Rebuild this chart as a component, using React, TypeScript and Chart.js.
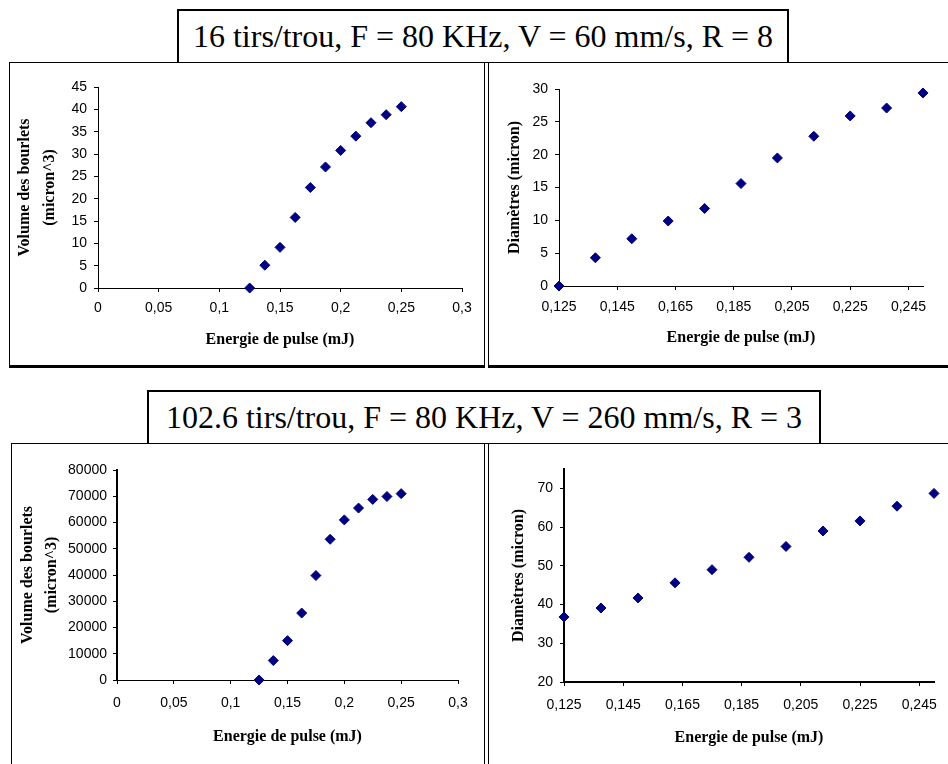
import React, { useEffect, useRef } from 'react';
import { Chart, registerables } from 'chart.js';

Chart.register(...registerables);

// ---------- data ----------
const energy = [0.125, 0.1375, 0.15, 0.1625, 0.175, 0.1875, 0.2, 0.2125, 0.225, 0.2375, 0.25];
const volume16 = [0, 5.1, 9.1, 15.8, 22.5, 27.1, 30.8, 34.0, 37.0, 38.8, 40.6];
const diam16 = [0, 4.3, 7.2, 9.9, 11.8, 15.6, 19.5, 22.8, 25.9, 27.1, 29.4];
const volume102 = [0, 7400, 15000, 25500, 39800, 53600, 61000, 65500, 68800, 69900, 71000];
const diam102 = [36.8, 39.1, 41.7, 45.6, 49.0, 52.2, 55.0, 59.0, 61.6, 65.4, 68.7];

const xTicksFull = [0, 0.05, 0.1, 0.15, 0.2, 0.25, 0.3];
const xTicksZoom = [0.125, 0.145, 0.165, 0.185, 0.205, 0.225, 0.245];
const yTicksVol16 = [0, 5, 10, 15, 20, 25, 30, 35, 40, 45];
const yTicksDiam16 = [0, 5, 10, 15, 20, 25, 30];
const yTicksVol102 = [0, 10000, 20000, 30000, 40000, 50000, 60000, 70000, 80000];
const yTicksDiam102 = [20, 30, 40, 50, 60, 70];

const title16 = '16 tirs/trou, F = 80 KHz, V = 60 mm/s, R = 8';
const title102 = '102.6 tirs/trou, F = 80 KHz, V = 260 mm/s, R = 3';
const xTitle = 'Energie de pulse (mJ)';
const yTitleVolume = ['Volume des bourlets', '(micron^3)'];
const yTitleDiam = 'Diamètres (micron)';

// ---------- styles ----------
const NAVY = '#000080';
const SANS = '"Liberation Sans", Arial, sans-serif';
const SERIF = '"Liberation Serif", "Times New Roman", "DejaVu Serif", serif';

type Spec = {
  canvas: { left: number; top: number; width: number; height: number };
  area: { left: number; right: number; top: number; bottom: number };
  xMin: number; xMax: number; xTicks: number[];
  yMin: number; yMax: number; yTicks: number[];
  xs: number[]; ys: number[];
  yTitle: string | string[];
  yTitleX: number; yTitleLH: number;
  xTitleY: number;
  xLabelGap: number; yLabelGap: number;
  xBorder: number; yBorder: number;
  tickFont: number;
};

const fmt = (v: any) => String(v).replace('.', ',');

function ScatterPanel({ spec }: { spec: Spec }) {
  const ref = useRef<HTMLCanvasElement>(null);
  const c = spec.canvas;
  useEffect(() => {
    const a = spec.area;
    const yAxisWidth = a.left - c.left;
    const xAxisHeight = c.top + c.height - a.bottom;
    const titleSize = 16;
    const xTitleLH = titleSize * 1.2;
    const xTitlePadBottom = c.top + c.height - spec.xTitleY - xTitleLH / 2;
    const yTitlePadTop = spec.yTitleX - c.left - spec.yTitleLH / 2;
    const tickLen = 4;
    const tickLH = spec.tickFont * 1.2;
    const chart = new Chart(ref.current as HTMLCanvasElement, {
      type: 'scatter',
      data: {
        datasets: [
          {
            data: spec.xs.map((x, i) => ({ x, y: spec.ys[i] })),
            pointStyle: 'rectRot',
            pointRadius: 5,
            backgroundColor: NAVY,
            borderColor: NAVY,
            borderWidth: 1,
            clip: false,
          } as any,
        ],
      },
      options: {
        responsive: false,
        animation: false,
        devicePixelRatio: 1,
        layout: {
          padding: { left: 0, top: a.top - c.top, right: c.left + c.width - a.right, bottom: 0 },
        },
        plugins: { legend: { display: false }, tooltip: { enabled: false }, title: { display: false } },
        scales: {
          x: {
            type: 'linear',
            position: 'bottom',
            min: spec.xMin,
            max: spec.xMax,
            afterBuildTicks: (ax: any) => { ax.ticks = spec.xTicks.map((v) => ({ value: v })); },
            afterFit: (ax: any) => { ax.height = xAxisHeight; },
            ticks: {
              callback: fmt,
              font: { family: SANS, size: spec.tickFont },
              color: '#000',
              padding: spec.xLabelGap - tickLen - tickLH / 2,
              maxRotation: 0,
              autoSkip: false,
            },
            grid: { display: true, drawOnChartArea: false, drawTicks: true, tickLength: tickLen, color: '#000', lineWidth: 1 },
            border: { display: true, color: '#000', width: spec.xBorder },
            title: {
              display: true,
              text: xTitle,
              color: '#000',
              font: { family: SERIF, size: titleSize, weight: 'bold', lineHeight: 1.2 },
              padding: { top: 0, bottom: xTitlePadBottom },
            },
          },
          y: {
            type: 'linear',
            position: 'left',
            min: spec.yMin,
            max: spec.yMax,
            afterBuildTicks: (ax: any) => { ax.ticks = spec.yTicks.map((v) => ({ value: v })); },
            afterFit: (ax: any) => { ax.width = yAxisWidth; },
            ticks: {
              callback: fmt,
              font: { family: SANS, size: spec.tickFont },
              color: '#000',
              padding: spec.yLabelGap - tickLen,
              autoSkip: false,
            },
            grid: { display: true, drawOnChartArea: false, drawTicks: true, tickLength: tickLen, color: '#000', lineWidth: 1 },
            border: { display: true, color: '#000', width: spec.yBorder },
            title: {
              display: true,
              text: spec.yTitle,
              color: '#000',
              font: { family: SERIF, size: titleSize, weight: 'bold', lineHeight: spec.yTitleLH / titleSize },
              padding: { top: yTitlePadTop, bottom: 0 },
            },
          },
        },
      } as any,
    });
    return () => chart.destroy();
  }, [spec]);
  return (
    <canvas
      ref={ref}
      width={c.width}
      height={c.height}
      style={{ position: 'absolute', left: c.left, top: c.top, width: c.width, height: c.height }}
    />
  );
}

const specTL: Spec = {
  canvas: { left: 10, top: 63, width: 474, height: 302 },
  area: { left: 98, right: 462, top: 87, bottom: 288 },
  xMin: 0, xMax: 0.3, xTicks: xTicksFull,
  yMin: 0, yMax: 45, yTicks: yTicksVol16,
  xs: energy, ys: volume16,
  yTitle: yTitleVolume, yTitleX: 25, yTitleLH: 25,
  xTitleY: 340, xLabelGap: 20, yLabelGap: 11,
  xBorder: 1, yBorder: 1, tickFont: 14,
};

const specTR: Spec = {
  canvas: { left: 489, top: 63, width: 459, height: 302 },
  area: { left: 559, right: 923, top: 89, bottom: 286 },
  xMin: 0.125, xMax: 0.25, xTicks: xTicksZoom,
  yMin: 0, yMax: 30, yTicks: yTicksDiam16,
  xs: energy, ys: diam16,
  yTitle: yTitleDiam, yTitleX: 515, yTitleLH: 19.2,
  xTitleY: 338, xLabelGap: 21, yLabelGap: 11,
  xBorder: 1, yBorder: 1, tickFont: 14,
};

const specBL: Spec = {
  canvas: { left: 12, top: 444, width: 472, height: 320 },
  area: { left: 117, right: 458, top: 470, bottom: 680 },
  xMin: 0, xMax: 0.3, xTicks: xTicksFull,
  yMin: 0, yMax: 80000, yTicks: yTicksVol102,
  xs: energy, ys: volume102,
  yTitle: yTitleVolume, yTitleX: 28, yTitleLH: 24,
  xTitleY: 737, xLabelGap: 23, yLabelGap: 10,
  xBorder: 1, yBorder: 2, tickFont: 14,
};

const specBR: Spec = {
  canvas: { left: 489, top: 444, width: 459, height: 320 },
  area: { left: 564, right: 934, top: 469, bottom: 682 },
  xMin: 0.125, xMax: 0.25, xTicks: xTicksZoom,
  yMin: 20, yMax: 75, yTicks: yTicksDiam102,
  xs: energy, ys: diam102,
  yTitle: yTitleDiam, yTitleX: 519, yTitleLH: 19.2,
  xTitleY: 738, xLabelGap: 23, yLabelGap: 11,
  xBorder: 2, yBorder: 2, tickFont: 14,
};

const abs = (left: number, top: number, width: number, height: number): React.CSSProperties => ({
  position: 'absolute', left, top, width, height, boxSizing: 'border-box',
});

function TitleBox({ left, top, width, height, text }: { left: number; top: number; width: number; height: number; text: string }) {
  return (
    <div
      style={{
        ...abs(left, top, width, height),
        border: '2px solid #000',
        borderBottomWidth: 1,
        background: '#fff',
        zIndex: 2,
        display: 'flex',
        alignItems: 'center',
        justifyContent: 'center',
        fontFamily: SERIF,
        fontSize: 32,
        color: '#000',
        whiteSpace: 'nowrap',
      }}
    >
      {text}
    </div>
  );
}

export default function App() {
  return (
    <div style={{ position: 'absolute', left: 0, top: 0, width: 948, height: 764, background: '#fff', overflow: 'hidden' }}>
      {/* top panels */}
      <div style={{ ...abs(9, 62, 476, 306), border: '1px solid #000', borderBottomWidth: 3 }} />
      <div style={{ ...abs(488, 62, 470, 306), border: '1px solid #000', borderBottomWidth: 3 }} />
      {/* bottom panels */}
      <div style={{ ...abs(11, 443, 474, 340), border: '1px solid #000' }} />
      <div style={{ ...abs(488, 443, 470, 340), border: '1px solid #000' }} />

      <TitleBox left={177} top={9} width={612} height={54} text={title16} />
      <TitleBox left={147} top={390} width={674} height={54} text={title102} />

      <ScatterPanel spec={specTL} />
      <ScatterPanel spec={specTR} />
      <ScatterPanel spec={specBL} />
      <ScatterPanel spec={specBR} />
    </div>
  );
}
